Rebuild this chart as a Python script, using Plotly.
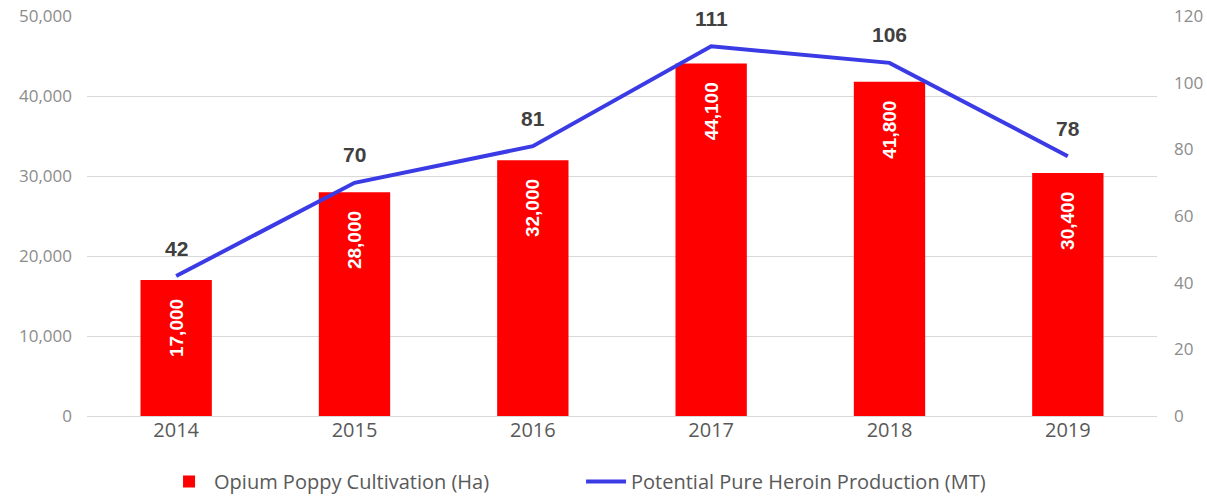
import plotly.graph_objects as go

years = ["2014", "2015", "2016", "2017", "2018", "2019"]
cultivation = [17000, 28000, 32000, 44100, 41800, 30400]
heroin = [42, 70, 81, 111, 106, 78]
left_ticks = [0, 10000, 20000, 30000, 40000, 50000]
right_ticks = [0, 20, 40, 60, 80, 100, 120]

fig = go.Figure()
fig.add_trace(go.Bar(
    x=years, y=cultivation, name="Opium Poppy Cultivation (Ha)",
    marker=dict(color="#ff0000", line=dict(width=0)),
    text=[f"{v:,}\u00a0\u00a0\u00a0" for v in cultivation], textposition="inside",
    insidetextanchor="end", textangle=-90,
    textfont=dict(family="Liberation Sans", size=19, color="white", weight="bold"),
    width=0.4,
))
fig.add_trace(go.Scatter(
    x=years, y=heroin, yaxis="y2", mode="lines",
    name="Potential Pure Heroin Production (MT)",
    line=dict(color="#3b3be6", width=4),
))
for i, v in enumerate(heroin):
    fig.add_annotation(x=i, y=v, xref="x", yref="y2", text=str(v), showarrow=False,
                       yshift=28, font=dict(family="Liberation Sans", size=21,
                                            color="#404040", weight="bold"))

fig.update_layout(
    width=1207, height=499,
    margin=dict(l=87, r=50, t=16, b=83, autoexpand=False),
    paper_bgcolor="white", plot_bgcolor="white",
    font=dict(family="Open Sans", color="#595959"),
    showlegend=True,
    legend=dict(orientation="h", x=0.072, xanchor="left", y=-0.115, yanchor="top",
                font=dict(size=20, color="#595959"),
                traceorder="normal", itemwidth=40,
                entrywidth=362, entrywidthmode="pixels"),
    xaxis=dict(type="category", range=[-0.5, 5.5], showgrid=False, showline=False,
               ticks="", tickfont=dict(size=20, color="#595959")),
    yaxis=dict(range=[0, 50030], tickvals=left_ticks, tickformat=",",
               showgrid=True, gridcolor="#d9d9d9", gridwidth=1,
               zeroline=True, zerolinecolor="#d9d9d9", zerolinewidth=1,
               tickfont=dict(size=17, color="#8c8c8c"), ticklabelstandoff=14),
    yaxis2=dict(range=[0, 120.072], tickvals=right_ticks, overlaying="y", side="right",
                showgrid=False, zeroline=False,
                tickfont=dict(size=17, color="#8c8c8c"), ticklabelstandoff=16),
    bargap=0.6,
)
fig.write_html("out.html")
